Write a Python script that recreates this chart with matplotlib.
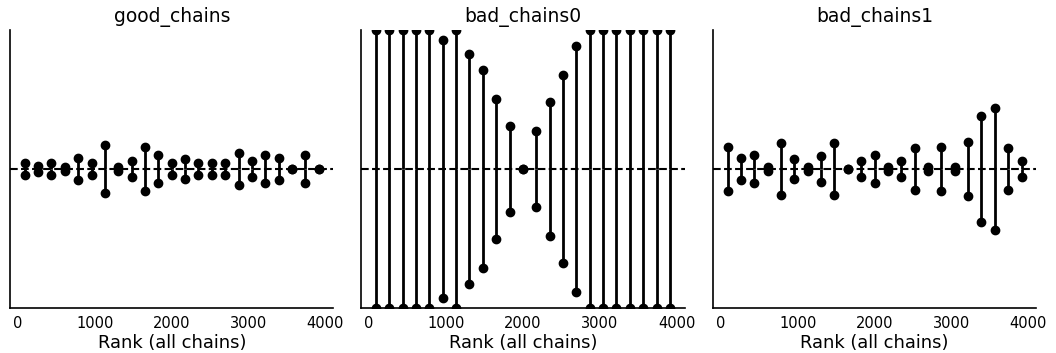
import numpy as np
import matplotlib.pyplot as plt

TOTAL_DRAWS = 4000
N_BINS = 23

titles = ["good_chains", "bad_chains0", "bad_chains1"]

# rank histogram counts per bin, one list per chain
good_chain0 = [91, 85, 91, 86, 94, 83, 102, 88, 82, 101, 78, 91, 81, 91, 83, 91, 77, 92, 96, 80, 87, 96, 87]
good_chain1 = [83, 89, 83, 88, 80, 91, 72, 86, 92, 73, 96, 83, 93, 83, 91, 83, 97, 82, 78, 94, 87, 78, 87]

bad0_chain0 = [174, 174, 174, 174, 174, 168, 174, 159, 149, 131, 114, 87, 111, 129, 146, 164, 174, 174, 174, 174, 174, 174, 174]
bad0_chain1 = [0, 0, 0, 0, 0, 6, 0, 15, 25, 43, 60, 87, 63, 45, 28, 10, 0, 0, 0, 0, 0, 0, 0]

bad1_chain0 = [101, 80, 96, 88, 71, 93, 86, 95, 71, 87, 92, 78, 88, 82, 100, 86, 101, 88, 70, 120, 49, 100, 82]
bad1_chain1 = [73, 94, 78, 86, 103, 81, 88, 79, 103, 87, 82, 96, 86, 92, 74, 88, 73, 86, 104, 54, 125, 74, 92]

panels = [
    (good_chain0, good_chain1),
    (bad0_chain0, bad0_chain1),
    (bad1_chain0, bad1_chain1),
]

edges = np.linspace(0, TOTAL_DRAWS, N_BINS + 1)
centers = (edges[1:] + edges[:-1]) / 2

fig = plt.figure(figsize=(10.56, 3.53), dpi=100)
lefts = [0.0095, 0.342, 0.675]

for left, title, chains in zip(lefts, titles, panels):
    ax = fig.add_axes([left, 0.1275, 0.3063, 0.7875])
    counts = np.array(chains, dtype=float)
    ref = counts.mean()
    for row in counts:
        ax.plot(centers, row, "o", color="k", markersize=6)
        ax.vlines(centers, ref, row, lw=2, colors="k")
    ax.axhline(ref, color="k", ls="--", lw=1.5)
    ax.set_ylim(0, ref * 2)
    ax.set_yticks([])
    ax.set_xticks([0, 1000, 2000, 3000, 4000])
    ax.tick_params(axis="x", length=0, pad=6, labelsize=10.5)
    for side in ["top", "right"]:
        ax.spines[side].set_visible(False)
    ax.spines["left"].set_linewidth(1.2)
    ax.spines["bottom"].set_linewidth(1.2)
    ax.set_xlabel("Rank (all chains)", fontsize=12.9, labelpad=2)
    ax.set_title(title, fontsize=13.5)

fig.savefig("out.png", dpi=100)
